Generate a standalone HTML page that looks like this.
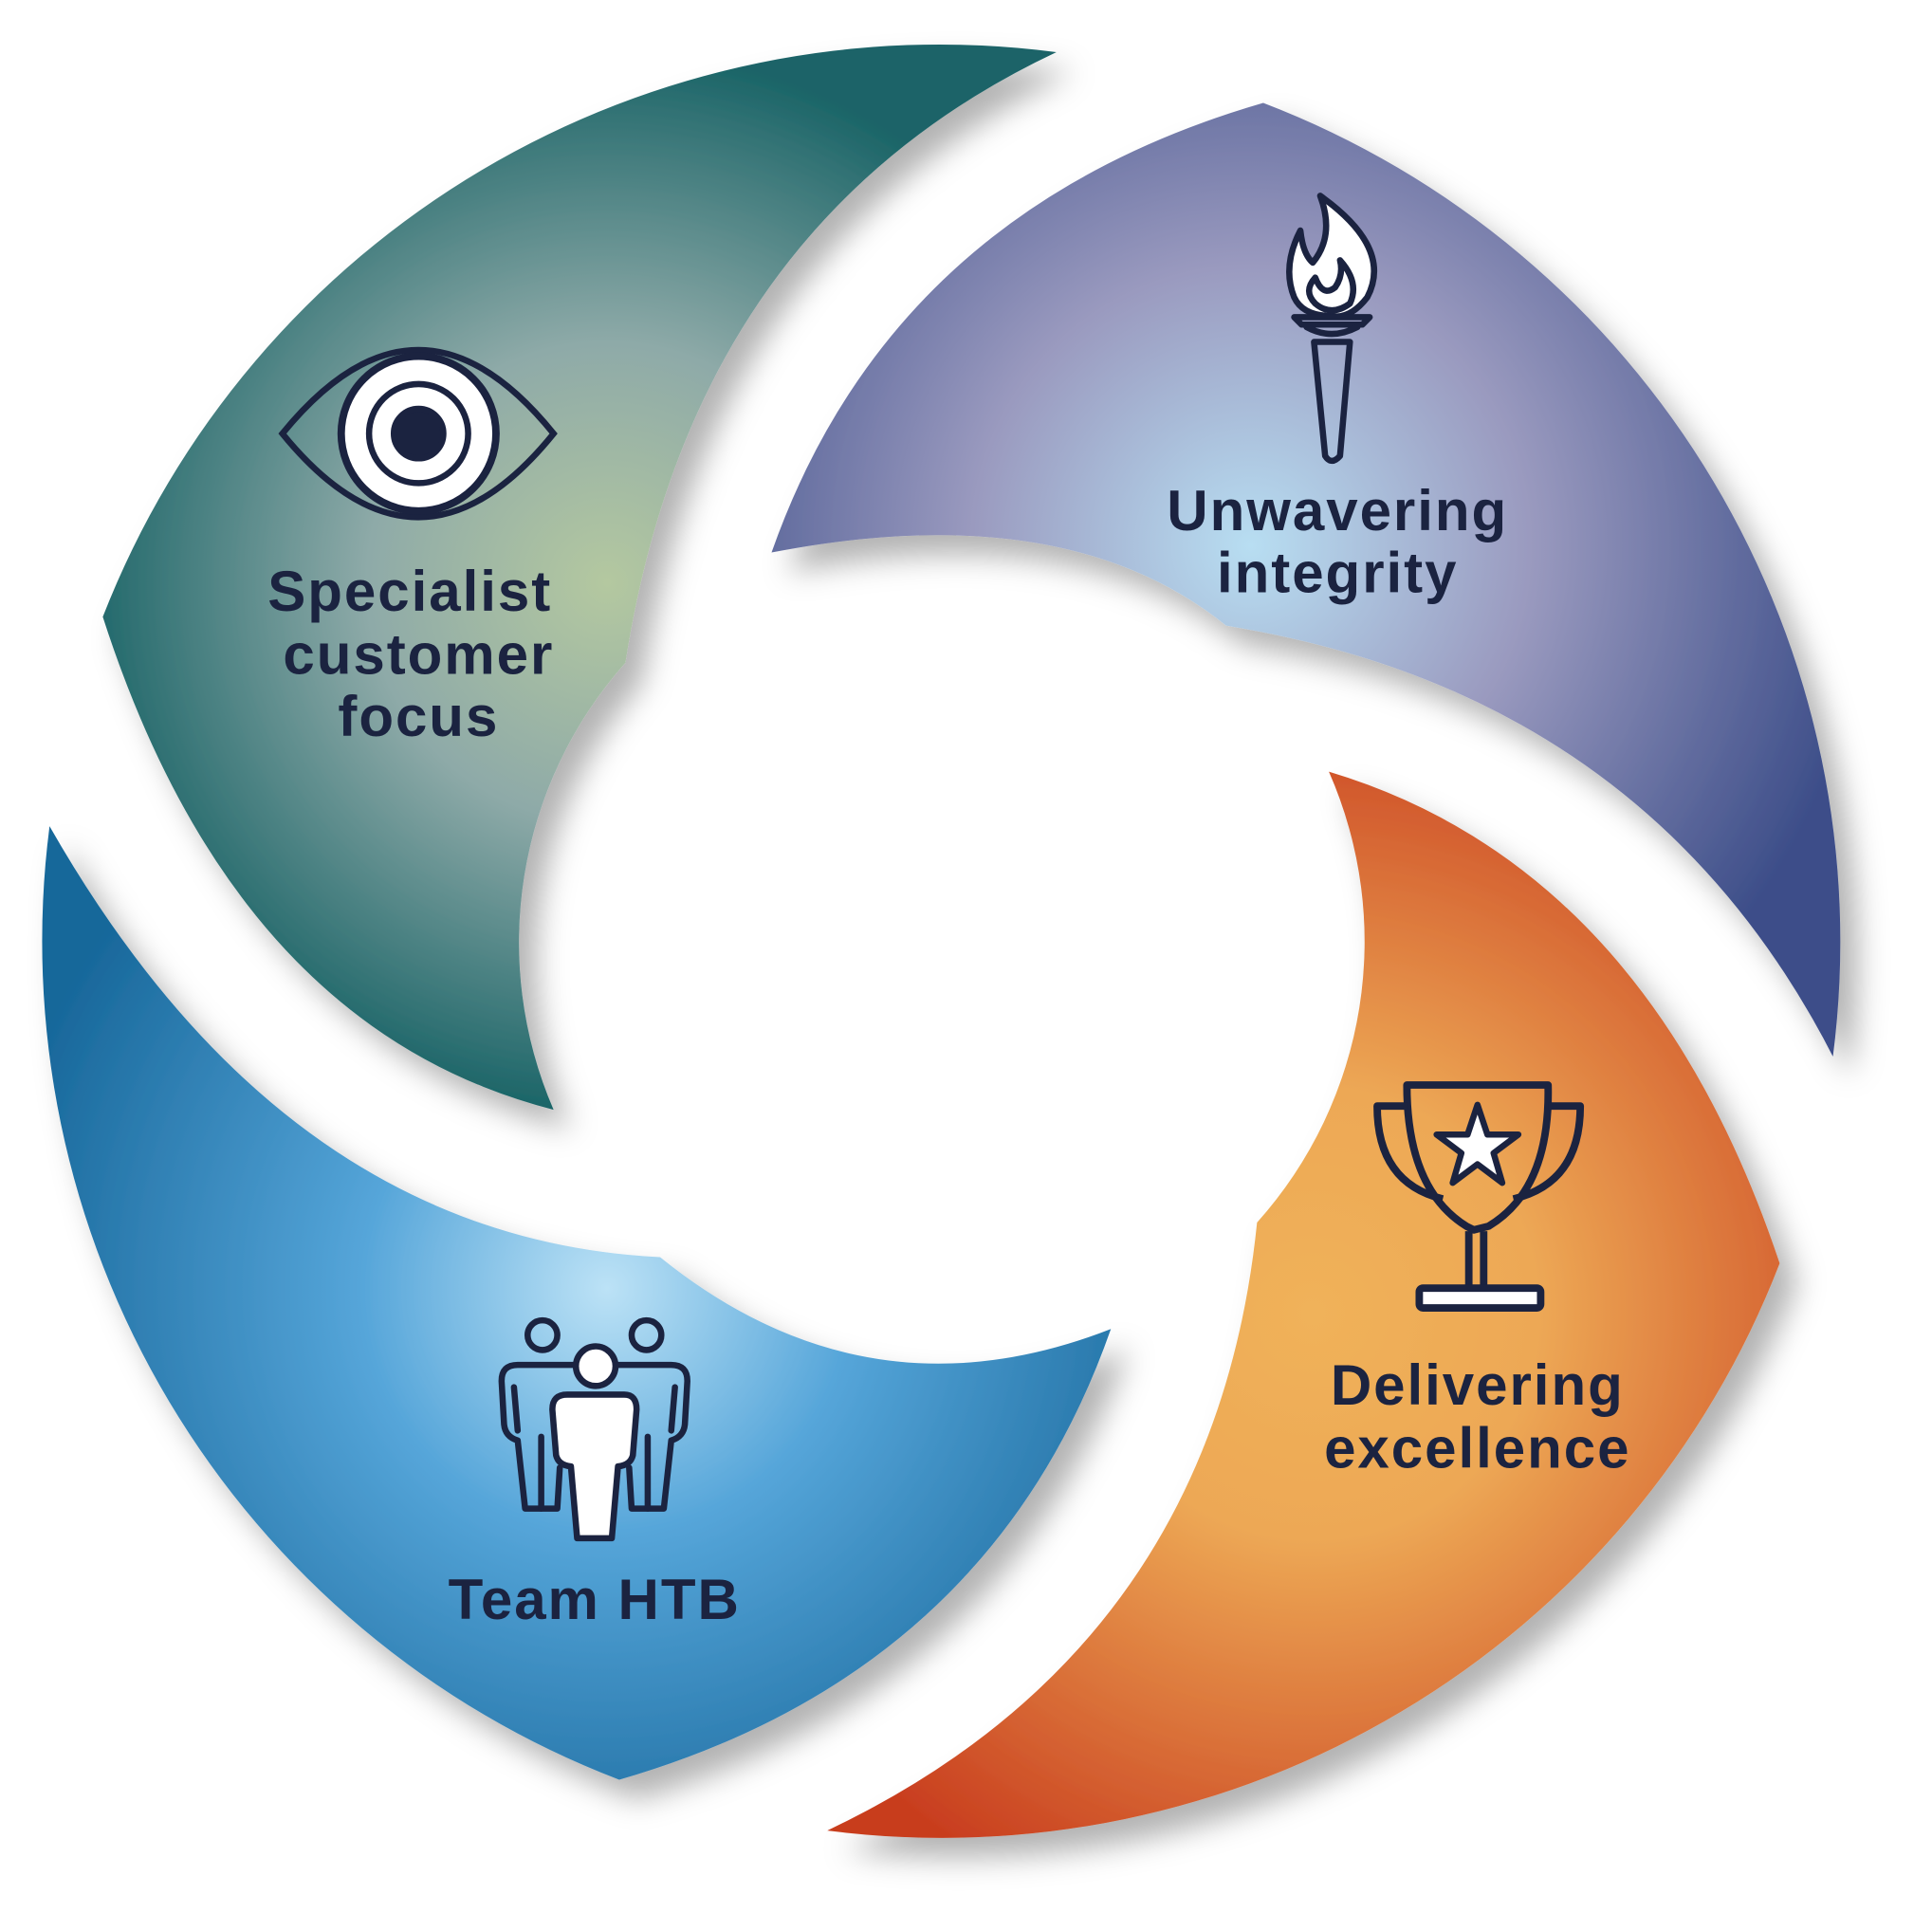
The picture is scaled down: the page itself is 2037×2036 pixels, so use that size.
<!DOCTYPE html>
<html><head><meta charset="utf-8"><style>
html,body{margin:0;padding:0;background:#fff;width:2037px;height:2036px;overflow:hidden}
svg{display:block}
text{font-family:"Liberation Sans",sans-serif;font-weight:bold;fill:#1b2340;font-size:46px;letter-spacing:1.5px;text-anchor:middle}
</style></head><body>
<svg width="2037" height="2036" viewBox="0 0 1560 1559" xmlns="http://www.w3.org/2000/svg">
<defs>
<filter id="sh" x="-20%" y="-20%" width="140%" height="140%"><feDropShadow dx="14" dy="16" stdDeviation="12" flood-color="#000" flood-opacity="0.3"/></filter>
<radialGradient id="gT" gradientUnits="userSpaceOnUse" cx="490" cy="470" r="430"><stop offset="0" stop-color="#b4c8a0"/><stop offset="0.45" stop-color="#8eaaa8"/><stop offset="1" stop-color="#1a6467"/></radialGradient>
<radialGradient id="gP" gradientUnits="userSpaceOnUse" cx="1010" cy="440" r="500"><stop offset="0" stop-color="#b8def2"/><stop offset="0.45" stop-color="#9a9abf"/><stop offset="1" stop-color="#3d4e89"/></radialGradient>
<radialGradient id="gO" gradientUnits="userSpaceOnUse" cx="1060" cy="1060" r="520"><stop offset="0" stop-color="#f0b25a"/><stop offset="0.35" stop-color="#eda855"/><stop offset="1" stop-color="#c83c1e"/></radialGradient>
<radialGradient id="gB" gradientUnits="userSpaceOnUse" cx="490" cy="1040" r="500"><stop offset="0" stop-color="#bce2f6"/><stop offset="0.4" stop-color="#55a5d9"/><stop offset="1" stop-color="#17679a"/></radialGradient>
</defs>
<g filter="url(#sh)">
<path fill="url(#gT)" d="M853,42 A725,725 0 0 0 83,498 Q190,830 447,896 A340,340 0 0 1 505,535 Q560,180 853,42 Z"/>
<path fill="url(#gP)" d="M1020,83 A725,725 0 0 1 1480,853 Q1330,560 990,505 Q860,400 623,446 Q720,170 1020,83 Z"/>
<path fill="url(#gO)" d="M1073,623 A340,340 0 0 1 1015,987 Q980,1330 668,1478 A725,725 0 0 0 1437,1020 Q1330,700 1073,623 Z"/>
<path fill="url(#gB)" d="M40,667 Q230,1000 533,1015 Q700,1150 897,1073 Q800,1350 500,1437 A725,725 0 0 1 40,667 Z"/>
</g>
<g stroke="#1b2340" stroke-width="5" fill="none">
<path d="M228,350 Q338,215 447,350 Q338,485 228,350 Z"/>
<circle cx="338" cy="350" r="62" fill="#fff"/>
<circle cx="338" cy="350" r="40" stroke-width="5"/>
<circle cx="338" cy="350" r="20" fill="#1b2340"/>
</g>
<circle cx="338" cy="350" r="63" fill="none" stroke="#1b2340" stroke-width="5"/>
<g stroke="#1b2340" stroke-width="5" fill="#fff" stroke-linejoin="round" stroke-linecap="round">
<path d="M1066,158 Q1125,200 1104,240 Q1090,258 1075,255 Q1052,255 1045,240 Q1035,215 1050,186 Q1052,205 1060,212 Q1078,190 1066,158 Z"/>
<path d="M1062,224 Q1068,240 1078,232 Q1085,222 1082,210 Q1098,228 1090,245 Q1075,256 1062,245 Q1052,235 1062,224 Z" fill="none"/>
<path d="M1045,256 L1106,256 L1100,262 L1051,262 Z" fill="none"/>
<path d="M1055,264 Q1075,275 1096,264" fill="none"/>
<path d="M1061,276 L1090,276 L1082,368 Q1075,376 1070,368 Z" fill="none"/>
</g>
<g stroke="#1b2340" stroke-width="6" fill="none" stroke-linejoin="round">
<path d="M1136,876 L1250,876 Q1252,960 1202,990 L1190,993 L1184,990 Q1136,960 1136,876 Z"/>
<path d="M1136,893 L1112,893 Q1112,955 1165,968"/>
<path d="M1250,893 L1276,893 Q1276,955 1222,968"/>
<path d="M1186,994 L1186,1040 M1198,994 L1198,1040"/>
<rect x="1146" y="1040" width="98" height="16" rx="3" fill="#fff"/>
<path d="M1193,892 L1201,916 L1226,916 L1206,931 L1213,955 L1193,940 L1173,955 L1180,931 L1160,916 L1185,916 Z" fill="#fff" stroke-width="5"/>
</g>
<g stroke="#1b2340" stroke-width="5" fill="none" stroke-linejoin="round" stroke-linecap="round">
<circle cx="438" cy="1078" r="12"/>
<circle cx="522" cy="1078" r="12"/>
<path d="M468,1102 L418,1102 Q405,1102 405,1115 L407,1150 Q408,1160 418,1163 L424,1218 L450,1218 L452,1185"/>
<path d="M492,1102 L542,1102 Q555,1102 555,1115 L553,1150 Q552,1160 542,1163 L536,1218 L510,1218 L508,1185"/>
<path d="M418,1155 L415,1120 M542,1155 L545,1120 M437,1218 L437,1160 M523,1218 L523,1160"/>
<circle cx="481" cy="1103" r="16" fill="#fff"/>
<path d="M458,1126 L504,1126 Q514,1126 514,1138 L511,1175 Q509,1183 499,1184 L494,1242 L466,1242 L461,1184 Q451,1183 449,1175 L446,1138 Q446,1126 458,1126 Z" fill="#fff"/>
</g>
<text x="331" y="493">Specialist</text>
<text x="338" y="544">customer</text>
<text x="338" y="594">focus</text>
<text x="1080" y="428">Unwavering</text>
<text x="1080" y="478">integrity</text>
<text x="1193" y="1134">Delivering</text>
<text x="1193" y="1185">excellence</text>
<text x="480" y="1307">Team HTB</text>
</svg>
</body></html>
